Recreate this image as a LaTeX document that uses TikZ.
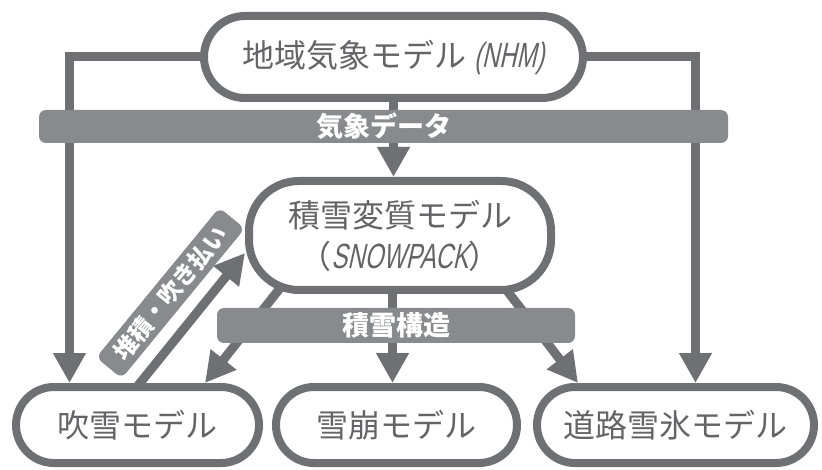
\documentclass[tikz,border=0pt]{standalone}
\usepackage{fontspec}
\setmainfont{Noto Sans CJK JP}
\newfontfamily\lat[FakeSlant=0.22,FakeStretch=0.68]{Liberation Sans}
\usetikzlibrary{arrows.meta}
\definecolor{lc}{RGB}{111,112,115}
\definecolor{bandc}{RGB}{137,138,141}
\definecolor{txtc}{RGB}{100,100,104}
\pgfdeclarelayer{bg}
\pgfsetlayers{bg,main}
\tikzset{
  mnode/.style={draw=lc, line width=8pt, fill=white, inner sep=0pt, text=txtc,
    font=\fontsize{32}{40}\selectfont, align=center},
  band/.style={fill=bandc, rounded corners=7pt, inner sep=0pt, text=white,
    font=\bfseries\fontsize{27}{30}\selectfont},
  conn/.style={draw=lc, line width=9pt},
  arr/.style={conn, -{Triangle[length=30pt,width=31pt]}}
}
\begin{document}
\begin{tikzpicture}[x=1pt,y=-1pt]
\useasboundingbox (0,0) rectangle (822,470);
% main nodes
\node[mnode, minimum width=379pt, minimum height=82pt, rounded corners=41pt] (nhm) at (393.5,57)
  {\raisebox{-3pt}{地域気象モデル {\lat\fontsize{35}{40}\selectfont (NHM)}}};
\node[mnode, minimum width=302pt, minimum height=109pt, rounded corners=50pt] (snow) at (400,235.5)
  {\raisebox{-1pt}{\parbox{280pt}{\centering\fontsize{32}{41}\selectfont 積雪変質モデル\\（{\lat\fontsize{35}{40}\selectfont SNOWPACK}）}}};
\node[mnode, minimum width=243pt, minimum height=76pt, rounded corners=38pt] (fuk) at (137.5,425)
  {\raisebox{-3pt}{吹雪モデル}};
\node[mnode, minimum width=241pt, minimum height=76pt, rounded corners=38pt] (nad) at (396.5,425)
  {\raisebox{-3pt}{雪崩モデル}};
\node[mnode, minimum width=277pt, minimum height=76pt, rounded corners=38pt] (road) at (675.5,425)
  {\raisebox{-3pt}{道路雪氷モデル}};
% connectors
\begin{pgfonlayer}{bg}
\draw[arr] (nhm.center) -| ([xshift=-68pt]fuk.north);
\draw[arr] (nhm.center) -| ([xshift=20pt]road.north);
\draw[arr] (nhm.center) -- (nhm.center |- snow.north);
\draw[arr] ([xshift=-7.5pt]snow.center) -- ([xshift=-7.5pt]snow.south |- nad.north);
\draw[arr] ([xshift=-101.4pt,yshift=29.3pt]snow.south) -- ([xshift=67.5pt]fuk.north);
\draw[arr] ([xshift=87pt,yshift=29.3pt]snow.south) -- ([xshift=-97.5pt]road.north);
\draw[arr] ([xshift=-13.25pt,yshift=-19.5pt]fuk.north) -- ([yshift=-17.5pt]snow.west);
\end{pgfonlayer}
% bands
\node[band, minimum width=689pt, minimum height=33pt] (met) at (383.5,126.5) {気象データ};
\node[band, minimum width=358pt, minimum height=35pt] (str) at (396,325.5) {積雪構造};
\node[band, rotate=50.6, minimum width=194pt, minimum height=33pt,
  font=\bfseries\fontsize{23.5}{26}\selectfont] (dep) at (170.5,293) {堆積・吹き払い};
\end{tikzpicture}
\end{document}
